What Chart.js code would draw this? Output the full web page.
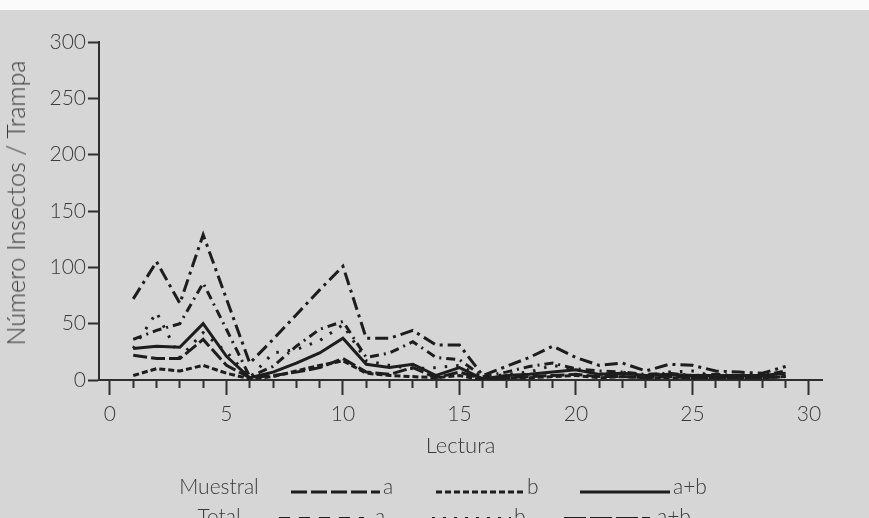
<!DOCTYPE html>
<html>
<head>
<meta charset="utf-8">
<script src="https://cdn.jsdelivr.net/npm/chart.js@4/dist/chart.umd.min.js"></script>
<style>
  html, body { margin: 0; padding: 0; }
  body {
    width: 869px; height: 518px; overflow: hidden; position: relative;
    background: #d6d6d6; color: #3a3a3a;
    font-family: Lato, "DejaVu Sans", sans-serif; font-weight: 300;
  }
  .strip { position: absolute; left: 0; top: 0; width: 869px; height: 10px; background: #fbfbfb; }
  #chart { position: absolute; left: 0; top: 0; }
  .lg { position: absolute; font-size: 21px; line-height: 24px; white-space: nowrap; }
  .row-name { width: 110px; text-align: center; }
  .ytitle {
    position: absolute; left: 15px; top: 203px; font-size: 25px; line-height: 28px;
    white-space: nowrap; transform: translate(-50%, -50%) rotate(-90deg);
  }
  #samples { position: absolute; left: 0; top: 460px; }
</style>
</head>
<body>
<div class="strip"></div>
<canvas id="chart" width="869" height="518"></canvas>

<div class="ytitle">Número Insectos / Trampa</div>

<div class="lg row-name" style="left:164px; top:474px">Muestral</div>
<div class="lg" style="left:383px; top:474px">a</div>
<div class="lg" style="left:527px; top:474px">b</div>
<div class="lg" style="left:673px; top:474px">a+b</div>

<div class="lg row-name" style="left:164px; top:504px">Total</div>
<div class="lg" style="left:375px; top:504px">a</div>
<div class="lg" style="left:514px; top:504px">b</div>
<div class="lg" style="left:657px; top:504px">a+b</div>

<svg id="samples" width="869" height="58"></svg>

<script>
// lectura (x) and insect counts per trap
const LECTURA = [1, 2, 3, 4, 5, 6, 7, 8, 9, 10, 11, 12, 13, 14, 15, 16, 17, 18, 19, 20, 21, 22, 23, 24, 25, 26, 27, 28, 29];
const MUESTRAL_A  = [22, 19, 19, 36, 13, 2, 4, 7, 11, 19, 7, 5, 11, 2, 7, 1, 2, 3, 4, 5, 3, 3, 2, 3, 2, 2, 2, 2, 3];
const MUESTRAL_B  = [4, 10, 8, 13, 6, 1, 3, 8, 13, 17, 6, 4, 3, 2, 4, 0, 2, 2, 3, 4, 2, 3, 2, 2, 2, 2, 2, 2, 3];
const MUESTRAL_AB = [28, 30, 29, 50, 21, 2, 7, 15, 24, 37, 14, 11, 14, 4, 11, 1, 4, 5, 7, 9, 5, 6, 4, 5, 4, 4, 4, 4, 6];
const TOTAL_A  = [36, 44, 50, 86, 45, 3, 12, 30, 45, 52, 20, 24, 34, 20, 18, 3, 7, 12, 15, 10, 8, 7, 5, 6, 4, 5, 4, 4, 8];
const TOTAL_B  = [28, 60, 20, 42, 25, 2, 24, 27, 35, 49, 17, 13, 10, 11, 13, 2, 5, 7, 13, 9, 5, 7, 3, 7, 8, 3, 3, 3, 4];
const TOTAL_AB = [72, 105, 68, 129, 72, 15, 36, 58, 80, 101, 37, 37, 44, 31, 31, 4, 12, 20, 30, 20, 13, 15, 8, 14, 13, 8, 7, 6, 12];

const X_TICKS = [0, 1, 2, 3, 4, 5, 6, 7, 8, 9, 10, 11, 12, 13, 14, 15, 16, 17, 18, 19, 20, 21, 22, 23, 24, 25, 26, 27, 28, 29, 30];
const Y_TICKS = [0, 50, 100, 150, 200, 250, 300];

const INK = "#1d1d1d";
const AXIS = "#2e2e2e";
const TXT = "#3a3a3a";
const FONT = "Lato, 'DejaVu Sans', sans-serif";

const SERIES = [
  { label: "Muestral a",   data: MUESTRAL_A,  dash: [14, 4] },
  { label: "Muestral b",   data: MUESTRAL_B,  dash: [6, 3] },
  { label: "Muestral a+b", data: MUESTRAL_AB, dash: [] },
  { label: "Total a",      data: TOTAL_A,     dash: [9, 5, 2, 5] },
  { label: "Total b",      data: TOTAL_B,     dash: [2.5, 9] },
  { label: "Total a+b",    data: TOTAL_AB,    dash: [13, 5, 3, 5] },
];

new Chart(document.getElementById("chart"), {
  type: "line",
  data: {
    datasets: SERIES.map((s) => ({
      label: s.label,
      data: LECTURA.map((x, i) => ({ x, y: s.data[i] })),
      borderColor: INK, borderWidth: 3, borderDash: s.dash,
      pointRadius: 0, tension: 0, fill: false,
    })),
  },
  options: {
    responsive: false,
    animation: false,
    events: [],
    layout: { padding: { top: 42, right: 47, bottom: 58, left: 0 } },
    plugins: { legend: { display: false }, tooltip: { enabled: false } },
    scales: {
      x: {
        type: "linear", min: -0.47, max: 30.56,
        afterBuildTicks: (s) => { s.ticks = X_TICKS.map((value) => ({ value })); },
        afterFit: (s) => { s.height = 80; },
        border: { color: AXIS, width: 2 },
        grid: {
          drawOnChartArea: false, tickLength: 15, tickWidth: 2, tickColor: AXIS,
          tickBorderDash: (c) => (c.tick && c.tick.value % 5 !== 0 ? [7, 30] : []),
        },
        ticks: {
          autoSkip: false, maxRotation: 0, padding: 7, color: TXT,
          font: { family: FONT, size: 21, weight: 300 },
          callback: (v) => (v % 5 === 0 ? v : ""),
        },
        title: { display: true, text: "Lectura", color: TXT, font: { family: FONT, size: 22, weight: 300 }, padding: { top: 0, bottom: 1 } },
      },
      y: {
        min: 0, max: 300,
        afterBuildTicks: (s) => { s.ticks = Y_TICKS.map((value) => ({ value })); },
        afterFit: (s) => { s.width = 99; },
        border: { color: AXIS, width: 2 },
        grid: { drawOnChartArea: false, tickLength: 11, tickWidth: 2, tickColor: AXIS },
        ticks: { padding: 2, color: TXT, font: { family: FONT, size: 21, weight: 300 } },
      },
    },
  },
});

// legend line samples
const svg = document.getElementById("samples");
const samples = [
  [291, 380, 32, [16, 4]], [436, 523, 32, [6, 3]], [580, 670, 32, []],
  [279, 364, 58.5, [11, 9]], [432, 511, 58.5, [3, 8]], [564, 650, 58.5, [22, 4]],
];
svg.innerHTML = samples.map(([x1, x2, y, d]) =>
  `<line x1="${x1}" x2="${x2}" y1="${y}" y2="${y}" stroke="${INK}" stroke-width="3" stroke-dasharray="${d.join(" ")}"/>`
).join("");
</script>
</body>
</html>
